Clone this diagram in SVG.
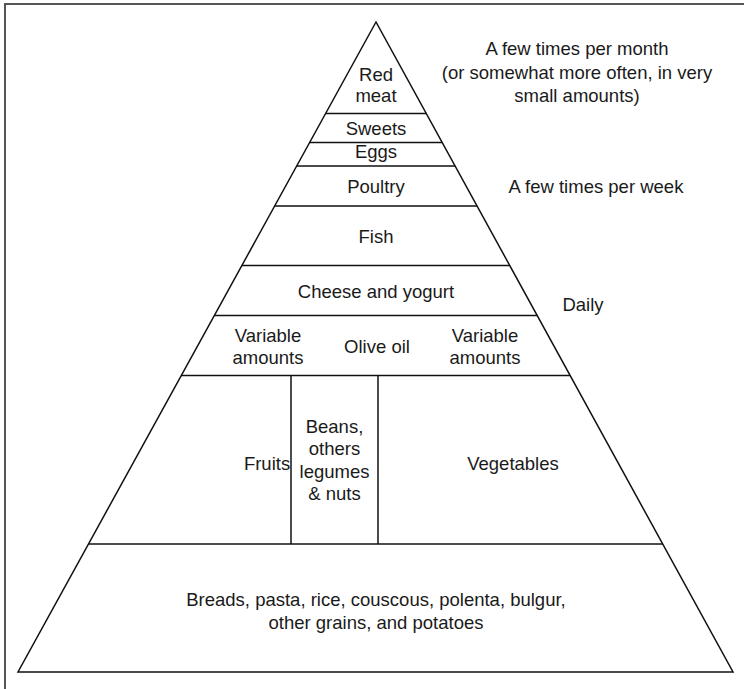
<svg xmlns="http://www.w3.org/2000/svg" width="744" height="689" viewBox="0 0 744 689">
  <style>
    .frame { fill: none; stroke: #555; stroke-width: 2; }
    .edge { fill: none; stroke: #111; stroke-width: 1.5; }
    text { font-family: "Liberation Sans", Arial, Helvetica, sans-serif; font-size: 18.5px; fill: #1a1a1a; text-anchor: middle; }
  </style>
  <rect width="744" height="689" fill="#fff"/>
  <!-- outer frame (open at right and bottom) -->
  <path class="frame" d="M5,689 V4 H744"/>

  <!-- pyramid outline and tier dividers -->
  <g id="connectors">
    <polygon class="edge" points="376,22 18,672 733,672"/>
    <line class="edge" x1="325.6" y1="113.5" x2="426.3" y2="113.5"/>
    <line class="edge" x1="309.6" y1="142.5" x2="442.2" y2="142.5"/>
    <line class="edge" x1="296.7" y1="166" x2="455.1" y2="166"/>
    <line class="edge" x1="274.7" y1="206" x2="477.1" y2="206"/>
    <line class="edge" x1="241.9" y1="265.5" x2="509.7" y2="265.5"/>
    <line class="edge" x1="214.3" y1="315.5" x2="537.2" y2="315.5"/>
    <line class="edge" x1="181.3" y1="375.5" x2="570.1" y2="375.5"/>
    <line class="edge" x1="88.5" y1="544" x2="662.7" y2="544"/>
    <line class="edge" x1="291" y1="375.5" x2="291" y2="544"/>
    <line class="edge" x1="378" y1="375.5" x2="378" y2="544"/>
  </g>

  <g id="red-meat"><text x="376" y="81">Red</text><text x="376" y="102">meat</text></g>
  <g id="sweets"><text x="376" y="134.5">Sweets</text></g>
  <g id="eggs"><text x="376" y="158">Eggs</text></g>
  <g id="poultry"><text x="376" y="193">Poultry</text></g>
  <g id="fish"><text x="376" y="243">Fish</text></g>
  <g id="cheese-yogurt"><text x="376" y="298">Cheese and yogurt</text></g>
  <g id="variable-left"><text x="268" y="342">Variable</text><text x="268" y="364">amounts</text></g>
  <g id="olive-oil"><text x="377" y="353">Olive oil</text></g>
  <g id="variable-right"><text x="485" y="342">Variable</text><text x="485" y="364">amounts</text></g>
  <g id="fruits"><text x="267" y="470">Fruits</text></g>
  <g id="beans"><text x="334.5" y="433">Beans,</text><text x="334.5" y="455">others</text><text x="334.5" y="477.5">legumes</text><text x="334.5" y="500">&amp; nuts</text></g>
  <g id="vegetables"><text x="513" y="470">Vegetables</text></g>
  <g id="grains"><text x="376" y="606">Breads, pasta, rice, couscous, polenta, bulgur,</text><text x="376" y="629">other grains, and potatoes</text></g>

  <g id="freq-month"><text x="577" y="55">A few times per month</text><text x="577" y="79">(or somewhat more often, in very</text><text x="577" y="102">small amounts)</text></g>
  <g id="freq-week"><text x="596" y="193">A few times per week</text></g>
  <g id="freq-daily"><text x="583" y="311">Daily</text></g>
</svg>
